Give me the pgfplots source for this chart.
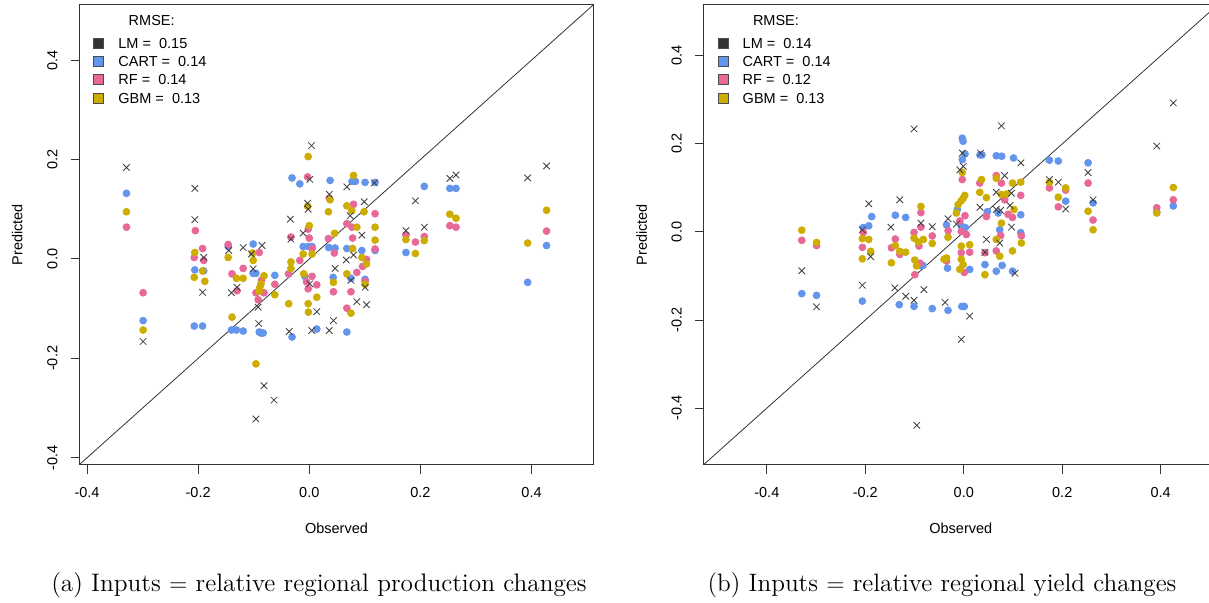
\documentclass[border=0pt]{standalone}
\usepackage{pgfplots}
\pgfplotsset{compat=1.18}
\usepackage{fontspec}
\newfontfamily\rfont{Liberation Sans}
\definecolor{cartc}{RGB}{100,149,237}
\definecolor{rfc}{RGB}{232,104,154}
\definecolor{gbmc}{RGB}{205,173,0}
\definecolor{lmc}{RGB}{51,51,51}
\newcommand{\rsize}{\rfont\fontsize{7.25}{8.5}\selectfont}
\pgfplotsset{
  rstyle/.style={
    scale only axis, width=257pt, height=229.9pt,
    axis line style={black!80, line width=0.5pt},
    tick style={black!80, line width=0.5pt},
    tick align=outside, major tick length=4.5pt,
    xtick pos=left, ytick pos=left,
    xtick={-0.4,-0.2,0,0.2,0.4}, ytick={-0.4,-0.2,0,0.2,0.4},
    tick label style={font=\rsize},
    /pgf/number format/.cd, fixed, fixed zerofill, precision=1, assume math mode=true, /pgfplots/.cd,
    yticklabel style={rotate=90, anchor=south},
    xticklabel shift=3.5pt, yticklabel shift=3pt,
    xlabel={Observed}, ylabel={Predicted},
    label style={font=\rsize},
    xlabel style={at={(axis description cs:0.5,-0.139)}, anchor=center},
    ylabel style={at={(axis description cs:-0.121,0.5)}, anchor=center},
    legend cell align=left,
    legend style={anchor=north west, at={(axis description cs:0.0263,0.933)}, draw=none, fill=none,
      font=\rsize, row sep=1.6pt, inner sep=0pt, nodes={inner sep=1pt, text height=5.3pt, text depth=0.2pt}},
  },
  lmp/.style={only marks, mark=x, mark size=2.3pt, color=black!75, mark options={line width=0.42pt}, forget plot},
  cartp/.style={only marks, mark=*, mark size=1.72pt, color=cartc, forget plot},
  rfp/.style={only marks, mark=*, mark size=1.72pt, color=rfc, forget plot},
  gbmp/.style={only marks, mark=*, mark size=1.72pt, color=gbmc, forget plot},
  sq/.style={legend image code/.code={\path[draw=none,fill=none] (0pt,-0.1pt) rectangle (11.3pt,0.1pt);\draw[draw=black!70, fill=#1, line width=0.4pt] (0pt,-2.5pt) rectangle (5pt,2.5pt);}},
}
\begin{document}
\begin{tikzpicture}
\path[use as bounding box] (0pt,0pt) rectangle (604.5pt,301pt);
\clip (0pt,0pt) rectangle (604.5pt,301pt);
% ---------------- panel (a) ----------------
\begin{axis}[rstyle, at={(39.75pt,68.75pt)}, anchor=south west,
  xmin=-0.4135, xmax=0.5115, ymin=-0.4135, ymax=0.5115]
\addplot[black!80, line width=0.4pt, forget plot] coordinates {(-1,-1) (1,1)};
\addplot[cartp] coordinates {
(-0.329,0.132) (-0.299,-0.124) (-0.206,-0.022) (-0.190,-0.024) (-0.207,-0.135) (-0.192,-0.135)
(-0.146,0.025) (-0.140,-0.143) (-0.131,-0.143) (-0.119,-0.145) (-0.101,0.030) (-0.101,-0.029)
(-0.096,-0.029) (-0.090,-0.147) (-0.083,-0.149) (-0.087,-0.149) (-0.062,-0.033) (-0.037,-0.030)
(-0.031,0.163) (-0.017,0.151) (-0.031,-0.157) (-0.011,0.025) (-0.002,0.025) (0.005,0.025)
(-0.008,-0.035) (0.0135,-0.141) (0.0375,0.158) (0.035,0.023) (0.0465,0.022) (0.043,-0.037)
(0.077,0.156) (0.083,0.156) (0.0676,0.021) (0.0946,0.017) (0.075,-0.039) (0.1004,-0.041)
(0.0676,-0.147) (0.1004,0.154) (0.1184,0.154) (0.1184,0.017) (0.174,0.013) (0.207,0.146)
(0.253,0.142) (0.264,0.142) (0.393,-0.047) (0.427,0.027)};
\addplot[rfp] coordinates {
(-0.329,0.064) (-0.299,-0.068) (-0.205,0.057) (-0.207,0.003) (-0.192,0.021) (-0.190,-0.003)
(-0.146,0.029) (-0.139,-0.030) (-0.130,-0.064) (-0.119,-0.019) (-0.090,0.013) (-0.086,-0.043)
(-0.096,-0.068) (-0.0815,-0.068) (-0.092,-0.082) (-0.062,-0.051) (-0.033,0.044) (-0.037,-0.030)
(-0.003,0.165) (-0.002,0.060) (0.0,0.042) (0.005,0.021) (-0.017,-0.003) (-0.005,-0.046)
(-0.002,-0.060) (0.005,-0.035) (0.0135,-0.052) (0.036,0.122) (0.0345,0.041) (0.045,0.012)
(0.0435,-0.066) (0.0796,0.110) (0.0676,0.071) (0.0766,0.064) (0.078,0.042) (0.103,-0.001)
(0.096,-0.015) (0.0856,-0.027) (0.1004,-0.045) (0.075,-0.066) (0.0676,-0.099) (0.1184,0.091)
(0.1184,0.020) (0.174,0.048) (0.191,0.034) (0.207,0.045) (0.253,0.067) (0.264,0.064)
(0.427,0.056)};
\addplot[gbmp] coordinates {
(-0.329,0.095) (-0.299,-0.143) (-0.206,0.013) (-0.207,-0.037) (-0.192,-0.024) (-0.188,-0.045)
(-0.146,0.003) (-0.139,-0.117) (-0.131,-0.039) (-0.119,-0.039) (-0.102,0.012) (-0.101,-0.003)
(-0.0815,-0.034) (-0.087,-0.050) (-0.089,-0.057) (-0.090,-0.065) (-0.096,-0.211) (-0.062,-0.072)
(-0.033,-0.006) (-0.033,-0.019) (-0.037,-0.090) (-0.002,0.206) (-0.003,0.106) (0.0,0.067)
(-0.011,0.010) (0.005,0.010) (-0.010,-0.030) (-0.002,-0.090) (-0.0016,-0.107) (0.0135,-0.077)
(0.0375,0.119) (0.0345,0.095) (0.0455,0.0515) (0.0435,-0.047) (0.0796,0.168) (0.0676,0.107)
(0.0766,0.097) (0.0856,0.064) (0.078,0.021) (0.0946,0.003) (0.103,-0.010) (0.0676,-0.030)
(0.075,-0.109) (0.1004,-0.051) (0.0986,0.095) (0.1184,0.064) (0.1184,0.038) (0.174,0.039)
(0.191,0.011) (0.207,0.037) (0.253,0.090) (0.264,0.082) (0.393,0.032) (0.427,0.098)};
\addplot[lmp] coordinates {
(-0.329,0.184) (-0.299,-0.166) (-0.206,0.142) (-0.206,0.079) (-0.190,0.003) (-0.192,-0.067)
(-0.145,0.017) (-0.140,-0.068) (-0.130,-0.057) (-0.119,0.023) (-0.101,-0.020) (-0.104,0.010)
(-0.085,0.027) (-0.092,-0.097) (-0.091,-0.130) (-0.0815,-0.255) (-0.0635,-0.284) (-0.096,-0.322)
(-0.034,0.080) (-0.033,0.040) (-0.036,-0.146) (-0.011,0.052) (0.004,0.228) (0.001,0.160)
(-0.003,0.112) (-0.002,0.100) (0.001,-0.050) (0.0045,-0.144) (0.0135,-0.106) (0.036,0.130)
(0.0465,-0.019) (0.036,-0.144) (0.0435,-0.124) (0.0676,0.145) (0.0736,0.087) (0.0946,0.048)
(0.0796,0.008) (0.0666,-0.002) (0.075,-0.043) (0.0856,-0.086) (0.103,-0.092) (0.1004,-0.057)
(0.117,0.153) (0.099,0.115) (0.174,0.057) (0.191,0.117) (0.207,0.064) (0.253,0.162)
(0.264,0.169) (0.393,0.163) (0.427,0.187)};
\addlegendimage{sq=lmc}\addlegendentry{LM =\ \ 0.15}
\addlegendimage{sq=cartc}\addlegendentry{CART =\ \ 0.14}
\addlegendimage{sq=rfc}\addlegendentry{RF =\ \ 0.14}
\addlegendimage{sq=gbmc}\addlegendentry{GBM =\ \ 0.13}
\node[font=\rsize, anchor=west] at (axis description cs:0.082,0.9646) {RMSE:};
\end{axis}
% ---------------- panel (b) ----------------
\begin{axis}[rstyle, at={(351.9pt,68.75pt)}, anchor=south west,
  xmin=-0.528, xmax=0.516, ymin=-0.528, ymax=0.516]
\addplot[black!80, line width=0.4pt, forget plot] coordinates {(-1,-1) (1,1)};
\addplot[cartp] coordinates {
(-0.329,-0.140) (-0.299,-0.144) (-0.206,-0.157) (-0.204,0.010) (-0.193,0.014) (-0.187,0.035)
(-0.131,-0.165) (-0.139,0.038) (-0.118,0.033) (-0.101,-0.169) (-0.083,-0.076) (-0.090,-0.076)
(-0.064,-0.174) (-0.032,-0.178) (-0.035,0.016) (-0.033,-0.082) (-0.013,0.051) (-0.005,0.014)
(0.003,0.010) (-0.003,0.213) (-0.0014,0.206) (0.0025,0.177) (-0.003,0.164) (-0.004,-0.169)
(0.001,-0.169) (0.012,-0.085) (0.033,0.175) (0.037,0.175) (0.048,0.046) (0.043,-0.074)
(0.066,0.173) (0.077,0.172) (0.070,0.043) (0.073,0.005) (0.066,-0.089) (0.078,-0.076)
(0.101,0.168) (0.1157,0.039) (0.1157,-0.0016) (0.099,-0.089) (0.174,0.163) (0.192,0.161)
(0.207,0.070) (0.2525,0.157) (0.2626,0.066) (0.392,0.046) (0.4256,0.059)};
\addplot[rfp] coordinates {
(-0.329,-0.019) (-0.299,-0.031) (-0.206,-0.035) (-0.204,-0.001) (-0.147,-0.036) (-0.139,-0.016)
(-0.130,-0.051) (-0.087,0.044) (-0.087,0.011) (-0.101,-0.001) (-0.091,-0.032) (-0.0995,-0.097)
(-0.089,-0.071) (-0.064,-0.009) (-0.0318,0.003) (-0.035,-0.066) (-0.008,0.025) (-0.003,0.119)
(0.0025,0.037) (-0.005,0.0014) (0.0054,-0.006) (-0.005,-0.047) (0.001,-0.092) (0.012,-0.046)
(0.0325,0.111) (0.046,0.035) (0.043,-0.047) (0.066,0.128) (0.0765,0.111) (0.0832,0.073)
(0.075,-0.008) (0.066,-0.043) (0.099,0.033) (0.090,0.040) (0.1157,0.083) (0.117,-0.009)
(0.174,0.100) (0.192,0.057) (0.207,0.095) (0.2525,0.111) (0.2626,0.027) (0.392,0.055)
(0.4256,0.073)};
\addplot[gbmp] coordinates {
(-0.329,0.004) (-0.299,-0.024) (-0.206,-0.015) (-0.206,-0.061) (-0.193,-0.017) (-0.189,-0.044)
(-0.147,-0.070) (-0.139,-0.031) (-0.130,-0.044) (-0.118,-0.046) (-0.087,0.058) (-0.101,-0.014)
(-0.092,-0.023) (-0.082,-0.017) (-0.0995,-0.064) (-0.096,-0.077) (-0.064,-0.026) (-0.032,-0.012)
(-0.035,-0.059) (-0.040,-0.062) (-0.003,0.135) (0.002,0.083) (-0.0014,0.076) (-0.005,0.071)
(-0.0115,0.062) (-0.015,0.043) (-0.005,-0.032) (0.012,-0.029) (-0.005,-0.062) (-0.0014,-0.074)
(-0.008,-0.085) (0.036,0.119) (0.0325,0.090) (0.046,0.078) (0.043,-0.097) (0.066,0.122)
(0.0765,0.085) (0.087,0.086) (0.0765,0.020) (0.066,-0.017) (0.073,-0.055) (0.099,0.111)
(0.1157,0.113) (0.102,0.051) (0.117,-0.025) (0.099,-0.043) (0.174,0.113) (0.192,0.079)
(0.207,0.100) (0.2525,0.047) (0.2626,0.005) (0.392,0.043) (0.4256,0.101)};
\addplot[lmp] coordinates {
(-0.329,-0.088) (-0.299,-0.170) (-0.206,-0.121) (-0.206,0.005) (-0.193,0.064) (-0.189,-0.056)
(-0.148,0.011) (-0.140,-0.127) (-0.130,0.073) (-0.118,-0.146) (-0.101,0.234) (-0.101,-0.155)
(-0.087,0.020) (-0.081,-0.131) (-0.064,0.012) (-0.032,0.030) (-0.038,-0.160) (-0.015,0.018)
(-0.003,0.179) (-0.001,0.149) (-0.008,0.141) (0.012,-0.191) (-0.005,-0.244) (0.034,0.179)
(0.033,0.056) (0.043,-0.046) (0.046,-0.017) (0.0765,0.241) (0.083,0.128) (0.066,0.090)
(0.066,0.051) (0.075,0.049) (0.094,0.060) (0.0732,-0.025) (0.097,0.088) (0.097,0.011)
(0.116,0.157) (0.104,-0.094) (0.174,0.119) (0.192,0.113) (0.207,0.052) (0.2525,0.135)
(0.2626,0.073) (0.392,0.195) (0.4256,0.293) (-0.0954,-0.439)};
\addlegendimage{sq=lmc}\addlegendentry{LM =\ \ 0.14}
\addlegendimage{sq=cartc}\addlegendentry{CART =\ \ 0.14}
\addlegendimage{sq=rfc}\addlegendentry{RF =\ \ 0.12}
\addlegendimage{sq=gbmc}\addlegendentry{GBM =\ \ 0.13}
\node[font=\rsize, anchor=west] at (axis description cs:0.082,0.9646) {RMSE:};
\end{axis}
\node[anchor=base, font=\fontsize{12.65}{14}\selectfont] at (159.5pt,5.5pt) {(a) Inputs $=$ relative regional production changes};
\node[anchor=base, font=\fontsize{12.6}{14}\selectfont] at (471pt,5.5pt) {(b) Inputs $=$ relative regional yield changes};
\end{tikzpicture}
\end{document}
